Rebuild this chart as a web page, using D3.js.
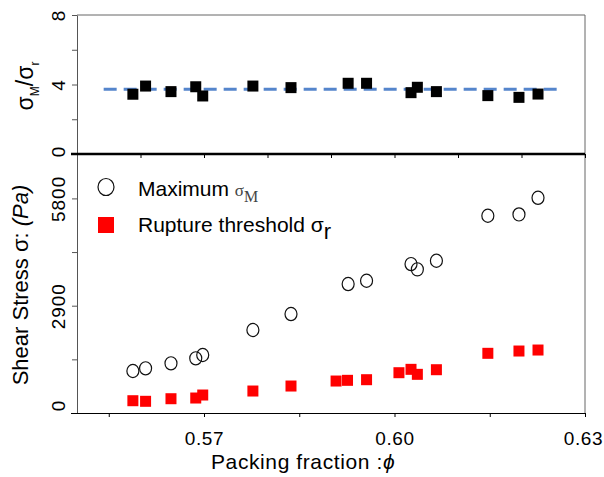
<!DOCTYPE html>
<html>
<head>
<meta charset="utf-8">
<script src="https://cdn.jsdelivr.net/npm/d3@7"></script>
<style>
  html, body { margin: 0; padding: 0; background: #fff; }
  svg { display: block; }
  text { font-family: "Liberation Sans", Arial, sans-serif; fill: #000; }
</style>
</head>
<body>
<svg id="chart" width="604" height="477"></svg>
<script>
// ---------- data ----------
const phiMax = [0.5588, 0.5608, 0.5648, 0.5687, 0.5698, 0.5777, 0.5837, 0.5927, 0.5956, 0.6026, 0.6036, 0.6066, 0.6147, 0.6196, 0.6226];
const maxStress = [1134, 1207, 1342, 1477, 1567, 2242, 2674, 3485, 3574, 4025, 3882, 4114, 5330, 5367, 5816];
const ratioValues = [3.44, 3.91, 3.59, 3.87, 3.34, 3.91, 3.82, 4.07, 4.07, 3.53, 3.84, 3.59, 3.36, 3.26, 3.45];
const phiRupture = [0.5588, 0.5608, 0.5648, 0.5687, 0.5698, 0.5777, 0.5837, 0.5908, 0.5926, 0.5956, 0.6007, 0.6026, 0.6036, 0.6066, 0.6147, 0.6196, 0.6226];
const ruptureStress = [332, 316, 386, 405, 486, 594, 729, 864, 883, 900, 1089, 1180, 1045, 1170, 1613, 1675, 1702];
const meanPhi = [0.5542, 0.6265];
const meanRatio = [3.72, 3.72];

const topYTicks = [0, 2, 4, 6, 8];
const topYLabels = [0, 4, 8];
const topXTicks = [0.56, 0.57, 0.58, 0.59, 0.60, 0.61, 0.62, 0.63];
const botYTicks = [0, 1450, 2900, 4350, 5800];
const botYLabels = [0, 2900, 5800];
const botXTicks = [0.555, 0.57, 0.585, 0.60, 0.615, 0.63];
const botXLabels = [0.57, 0.60, 0.63];

const legendLabels = ["Maximum ", "Rupture threshold "];

// ---------- layout ----------
const svg = d3.select("#chart");
const L = 77, R = 585, T = 15, MID = 154, B = 413;

const x = d3.scaleLinear().domain([0.55, 0.63]).range([L, R]);
const yTop = d3.scaleLinear().domain([0, 8]).range([MID, T]);
const yBot = d3.scaleLinear().domain([0, 7000]).range([B, MID]);

const near = (arr, d) => arr.some(v => Math.abs(v - d) < 1e-9);

// frame: top border & right border
svg.append("line").attr("x1", L).attr("x2", R).attr("y1", T).attr("y2", T)
  .attr("stroke", "#666").attr("stroke-width", 1);
svg.append("line").attr("x1", R).attr("x2", R).attr("y1", T).attr("y2", B)
  .attr("stroke", "#666").attr("stroke-width", 1);

// ---------- top panel axes ----------
const gTopY = svg.append("g").attr("transform", `translate(${L},0)`)
  .call(d3.axisLeft(yTop).tickValues(topYTicks).tickSize(5).tickSizeOuter(0)
    .tickFormat(d => near(topYLabels, d) ? d3.format("d")(d) : ""));
const gTopX = svg.append("g").attr("transform", `translate(0,${MID})`)
  .call(d3.axisBottom(x).tickValues(topXTicks).tickSize(4).tickSizeOuter(0).tickFormat(""));
gTopX.select(".domain").remove();

// ---------- bottom panel axes ----------
const gBotY = svg.append("g").attr("transform", `translate(${L},0)`)
  .call(d3.axisLeft(yBot).tickValues(botYTicks).tickSize(5).tickSizeOuter(0)
    .tickFormat(d => near(botYLabels, d) ? d3.format("d")(d) : ""));
const gBotX = svg.append("g").attr("transform", `translate(0,${B})`)
  .call(d3.axisBottom(x).tickValues(botXTicks).tickSize(4).tickSizeOuter(0)
    .tickFormat(d => near(botXLabels, d) ? d3.format(".2f")(d) : ""));

[gTopY, gBotY].forEach(g => {
  g.select(".domain").attr("stroke", "#555");
  g.selectAll(".tick line").attr("stroke", "#555");
  g.selectAll(".tick text")
    .attr("transform", "rotate(-90)")
    .attr("x", 0).attr("y", -12).attr("dy", 0)
    .attr("text-anchor", "middle")
    .style("font-size", "19px").style("letter-spacing", "1px")
    .attr("font-family", null);
});
gTopY.selectAll(".tick text").filter(d => d === 0).attr("x", 3);
gBotY.selectAll(".tick text").filter(d => d === 0).attr("x", 8);
gBotX.select(".domain").attr("stroke", "#000").attr("d", `M${L - 6},0.5H${R}`);
gBotX.selectAll(".tick line").attr("stroke", "#000");
gBotX.selectAll(".tick text").attr("y", 14).attr("dy", "0.95em")
  .style("font-size", "19px").style("letter-spacing", "0.6px").attr("font-family", null);
gBotX.selectAll(".tick text").filter(d => Math.abs(d - 0.63) < 1e-9).attr("x", -2);
gTopX.selectAll(".tick line").attr("stroke", "#000");

// thick divider
svg.append("line").attr("x1", L - 6).attr("x2", R).attr("y1", MID).attr("y2", MID)
  .attr("stroke", "#000").attr("stroke-width", 2.5);

// ---------- top panel marks ----------
svg.append("path")
  .datum(meanPhi.map((p, i) => [p, meanRatio[i]]))
  .attr("d", d3.line().x(d => x(d[0])).y(d => yTop(d[1])))
  .attr("fill", "none").attr("stroke", "#5585cc").attr("stroke-width", 3)
  .attr("stroke-dasharray", "13,7");

const sq = 11;
svg.append("g").selectAll("rect").data(phiMax.map((p, i) => [p, ratioValues[i]]))
  .join("rect")
  .attr("x", d => x(d[0]) - sq / 2).attr("y", d => yTop(d[1]) - sq / 2)
  .attr("width", sq).attr("height", sq).attr("fill", "#000");

// ---------- bottom panel marks ----------
svg.append("g").selectAll("rect").data(phiRupture.map((p, i) => [p, ruptureStress[i]]))
  .join("rect")
  .attr("x", d => x(d[0]) - sq / 2).attr("y", d => yBot(d[1]) - sq / 2)
  .attr("width", sq).attr("height", sq).attr("fill", "#ff0000");

svg.append("g").selectAll("ellipse").data(phiMax.map((p, i) => [p, maxStress[i]]))
  .join("ellipse")
  .attr("cx", d => x(d[0])).attr("cy", d => yBot(d[1]))
  .attr("rx", 6).attr("ry", 6.6)
  .attr("fill", "none").attr("stroke", "#111").attr("stroke-width", 1.2);

// ---------- legend ----------
svg.append("ellipse").attr("cx", 106).attr("cy", 187).attr("rx", 8).attr("ry", 8.5)
  .attr("fill", "none").attr("stroke", "#111").attr("stroke-width", 1.2);
svg.append("rect").attr("x", 98).attr("y", 217).attr("width", 16).attr("height", 16)
  .attr("fill", "#ff0000");

const t1 = svg.append("text").attr("x", 138).attr("y", 196).style("font-size", "21px");
t1.append("tspan").text(legendLabels[0]);
t1.append("tspan").text("σ").style("font-family", "'Liberation Serif', 'Times New Roman', serif")
  .style("font-size", "17px").style("fill", "#444");
t1.append("tspan").text("M").attr("dy", 6).style("font-family", "'Liberation Serif', 'Times New Roman', serif")
  .style("font-size", "16px").style("fill", "#444");

const t2 = svg.append("text").attr("x", 138).attr("y", 232).style("font-size", "21px");
t2.append("tspan").text(legendLabels[1]);
t2.append("tspan").text("σ");
t2.append("tspan").text("r").attr("dy", 7).style("font-size", "22px");

// ---------- axis titles ----------
svg.append("text").attr("x", 211).attr("y", 469)
  .style("font-size", "21px").style("letter-spacing", "0.6px")
  .text("Packing fraction :")
  .append("tspan").text("ϕ").style("font-style", "italic");

const yt = svg.append("text").attr("transform", "translate(28,285) rotate(-90)")
  .attr("text-anchor", "middle").style("font-size", "22px");
yt.append("tspan").text("Shear Stress σ: ");
yt.append("tspan").text("(Pa)").style("font-style", "italic");

const yt2 = svg.append("text").attr("transform", "translate(33,86) rotate(-90)")
  .attr("text-anchor", "middle").style("font-size", "23px");
yt2.append("tspan").text("σ");
yt2.append("tspan").text("M").attr("dy", 6).style("font-size", "12px");
yt2.append("tspan").text("/σ").attr("dy", -6);
yt2.append("tspan").text("r").attr("dy", 6).style("font-size", "12px");
</script>
</body>
</html>
